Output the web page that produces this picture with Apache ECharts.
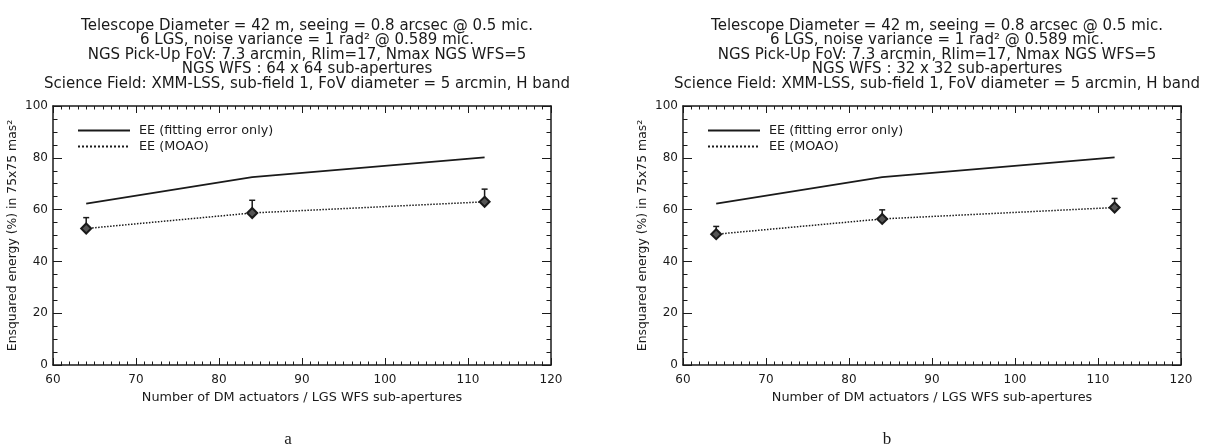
<!DOCTYPE html>
<html>
<head>
<meta charset="utf-8">
<script src="https://cdn.jsdelivr.net/npm/echarts@6/dist/echarts.min.js"></script>
<style>
  html, body { margin: 0; padding: 0; background: #fff; }
  #main { width: 1213px; height: 448px; }
</style>
</head>
<body>
<div id="main"></div>
<script>
// 数据
var xValues = [64, 84, 112];
var fittingA = [62.3, 72.5, 80.2];
var moaoA = [52.7, 58.7, 63.0];
var errTopA = [56.9, 63.6, 67.9];
var fittingB = [62.3, 72.5, 80.2];
var moaoB = [50.5, 56.4, 60.8];
var errTopB = [53.5, 59.9, 64.3];
var xTicks = [60, 70, 80, 90, 100, 110, 120];
var yTicks = [0, 20, 40, 60, 80, 100];

var titleA = 'Telescope Diameter = 42 m, seeing = 0.8 arcsec @ 0.5 mic.\n6 LGS, noise variance = 1 rad² @ 0.589 mic.\nNGS Pick-Up FoV: 7.3 arcmin, Rlim=17, Nmax NGS WFS=5\nNGS WFS : 64 x 64 sub-apertures\nScience Field: XMM-LSS, sub-field 1, FoV diameter = 5 arcmin, H band';
var titleB = 'Telescope Diameter = 42 m, seeing = 0.8 arcsec @ 0.5 mic.\n6 LGS, noise variance = 1 rad² @ 0.589 mic.\nNGS Pick-Up FoV: 7.3 arcmin, Rlim=17, Nmax NGS WFS=5\nNGS WFS : 32 x 32 sub-apertures\nScience Field: XMM-LSS, sub-field 1, FoV diameter = 5 arcmin, H band';
var nameFit = 'EE (fitting error only)';
var nameMoao = 'EE (MOAO)';
var yName = 'Ensquared energy (%) in 75x75 mas²';
var xName = 'Number of DM actuators / LGS WFS sub-apertures';

var FONT = 'DejaVu Sans';
var INK = '#1a1a1a';

function pairs(xs, ys) {
  var out = [];
  for (var i = 0; i < xs.length; i++) out.push([xs[i], ys[i]]);
  return out;
}
function triples(xs, ys, tops) {
  var out = [];
  for (var i = 0; i < xs.length; i++) out.push([xs[i], ys[i], tops[i]]);
  return out;
}

// 误差棒 + 菱形点
function renderErr(params, api) {
  var p = api.coord([api.value(0), api.value(1)]);
  var t = api.coord([api.value(0), api.value(2)]);
  var s = 5;
  return {
    type: 'group',
    children: [
      { type: 'line', shape: { x1: p[0], y1: p[1], x2: t[0], y2: t[1] }, style: { stroke: INK, lineWidth: 1.5 } },
      { type: 'line', shape: { x1: t[0] - 3, y1: t[1], x2: t[0] + 3, y2: t[1] }, style: { stroke: INK, lineWidth: 1.5 } },
      { type: 'polygon', shape: { points: [[p[0], p[1] - s], [p[0] + s, p[1]], [p[0], p[1] + s], [p[0] - s, p[1]]] },
        style: { fill: '#555', stroke: INK, lineWidth: 2 } }
    ]
  };
}

function xAxisDef(gi, pos) {
  var main = pos === 'bottom';
  return {
    type: 'value', gridIndex: gi, position: pos, min: xTicks[0], max: xTicks[xTicks.length - 1], interval: 10,
    name: main ? xName : '', nameLocation: 'middle', nameGap: 26,
    nameTextStyle: { fontFamily: FONT, fontSize: 12.8, color: INK },
    axisLine: { show: true, onZero: false, lineStyle: { color: INK, width: 1.5 } },
    axisTick: { show: true, inside: true, length: 7, lineStyle: { color: INK, width: 1 } },
    minorTick: { show: true, splitNumber: 10, length: 3.5, lineStyle: { color: INK, width: 1 } },
    axisLabel: { show: main, margin: 9, fontFamily: FONT, fontSize: 12, color: INK },
    splitLine: { show: false }
  };
}
function yAxisDef(gi, pos) {
  var main = pos === 'left';
  return {
    type: 'value', gridIndex: gi, position: pos, min: yTicks[0], max: yTicks[yTicks.length - 1], interval: 20,
    name: main ? yName : '', nameLocation: 'middle', nameGap: 34,
    nameTextStyle: { fontFamily: FONT, fontSize: 12.4, color: INK },
    axisLine: { show: true, onZero: false, lineStyle: { color: INK, width: 1.5 } },
    axisTick: { show: true, inside: true, length: 9, lineStyle: { color: INK, width: 1 } },
    minorTick: { show: true, splitNumber: 4, length: 4.5, lineStyle: { color: INK, width: 1 } },
    axisLabel: { show: main, margin: 5, fontFamily: FONT, fontSize: 12, color: INK },
    splitLine: { show: false }
  };
}

function panelSeries(gi, fit, moao, tops) {
  return [
    {
      name: nameFit, type: 'line', xAxisIndex: gi * 2, yAxisIndex: gi * 2,
      data: pairs(xValues, fit), symbol: 'none', silent: true,
      lineStyle: { color: INK, width: 1.8, type: 'solid' }, itemStyle: { color: INK }
    },
    {
      name: nameMoao, type: 'line', xAxisIndex: gi * 2, yAxisIndex: gi * 2,
      data: pairs(xValues, moao), symbol: 'none', silent: true,
      lineStyle: { color: INK, width: 1.5, type: 'dotted' }, itemStyle: { color: INK }
    },
    {
      type: 'custom', xAxisIndex: gi * 2, yAxisIndex: gi * 2,
      data: triples(xValues, moao, tops), renderItem: renderErr,
      encode: { x: 0, y: [1, 2] }, silent: true, z: 5
    }
  ];
}

function legendDef(left) {
  return {
    left: left, top: 124, padding: 0, orient: 'vertical', itemWidth: 52, itemHeight: 10, itemGap: 3,
    data: [nameFit, nameMoao], selectedMode: false,
    itemStyle: { opacity: 0 },
    textStyle: { fontFamily: FONT, fontSize: 12.8, color: INK, padding: [0, 0, 0, 4] }
  };
}

function titleDef(text, center) {
  return {
    text: text, left: center, top: 14, textAlign: 'center',
    textStyle: { fontFamily: FONT, fontSize: 15, fontWeight: 'normal', color: INK, lineHeight: 14.4, align: 'center' }
  };
}

var myChart = echarts.init(document.getElementById('main'));
var option = {
  animation: false,
  backgroundColor: '#fff',
  title: [
    titleDef(titleA, 302),
    titleDef(titleB, 932),
    { text: 'a', left: 283, top: 426, textAlign: 'center',
      textStyle: { fontFamily: 'Liberation Serif', fontSize: 17, fontWeight: 'normal', color: INK } },
    { text: 'b', left: 882, top: 426, textAlign: 'center',
      textStyle: { fontFamily: 'Liberation Serif', fontSize: 17, fontWeight: 'normal', color: INK } }
  ],
  legend: [legendDef(77), legendDef(707)],
  grid: [
    { left: 53, top: 106, width: 498, height: 259 },
    { left: 683, top: 106, width: 498, height: 259 }
  ],
  xAxis: [xAxisDef(0, 'bottom'), xAxisDef(0, 'top'), xAxisDef(1, 'bottom'), xAxisDef(1, 'top')],
  yAxis: [yAxisDef(0, 'left'), yAxisDef(0, 'right'), yAxisDef(1, 'left'), yAxisDef(1, 'right')],
  series: panelSeries(0, fittingA, moaoA, errTopA).concat(panelSeries(1, fittingB, moaoB, errTopB))
};
option && myChart.setOption(option);
</script>
</body>
</html>
